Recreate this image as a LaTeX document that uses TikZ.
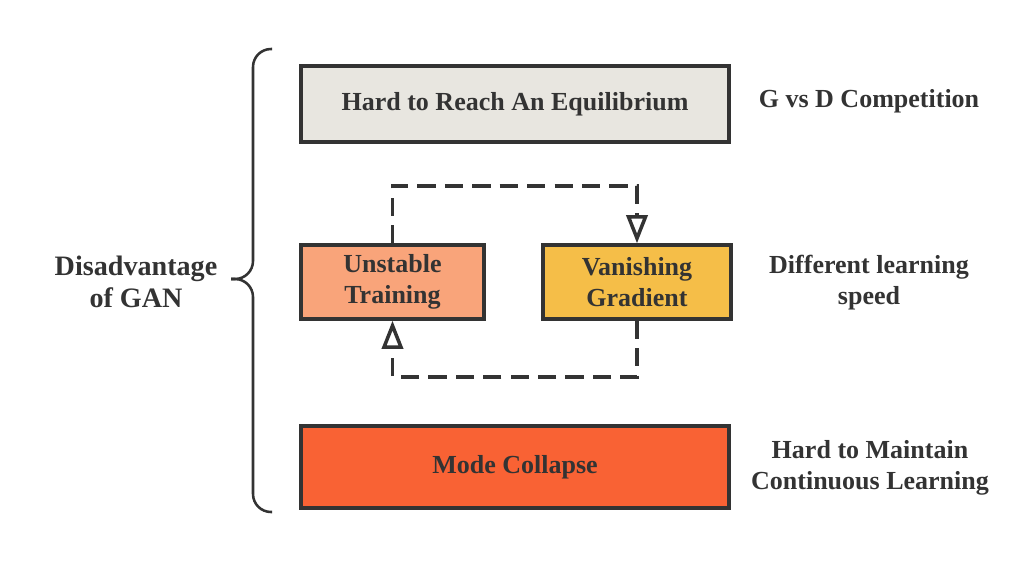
\documentclass[tikz,border=0pt]{standalone}
\usepackage{fontspec}
\setmainfont{Liberation Serif}
\usepackage{xcolor}
\usetikzlibrary{calc,arrows.meta,positioning}

\definecolor{inkgray}{HTML}{333333}
\definecolor{equifill}{HTML}{E8E6E0}
\definecolor{unstfill}{HTML}{F9A47A}
\definecolor{vanfill}{HTML}{F5BE48}
\definecolor{modefill}{HTML}{F96234}

\tikzset{
    issuebox/.style={draw=inkgray, line width=2.4pt, text=inkgray,
        font=\fontsize{18.5}{22}\selectfont\bfseries, align=center, inner sep=0pt},
    sidetext/.style={text=inkgray, font=\fontsize{18.5}{22}\selectfont\bfseries, align=center},
    loopline/.style={draw=inkgray, line width=2.5pt, dash pattern=on 13pt off 6.5pt},
}

\begin{document}
\begin{tikzpicture}[x=0.025cm, y=-0.025cm, >={Triangle[open, length=20pt, width=15pt]}]
    % Canvas
    \useasboundingbox (0,0) rectangle (1036,560);

    % Issue boxes
    \node[issuebox, fill=equifill, minimum width=10.7cm, minimum height=1.9cm] (equi) at (515,104) {Hard to Reach An Equilibrium};
    \node[issuebox, fill=unstfill, minimum width=4.575cm, minimum height=1.85cm] (unst) at (392.5,282) {Unstable\\Training};
    \node[issuebox, fill=vanfill, minimum width=4.7cm, minimum height=1.85cm] (van) at (637,282) {Vanishing\\Gradient};
    \node[issuebox, fill=modefill, minimum width=10.7cm, minimum height=2.05cm] (mode) at (515,467) {Mode Collapse};

    % Causes on the right
    \node[sidetext] (comp) at (869,101) {G vs D Competition};
    \node[sidetext] (speed) at (869,283) {Different learning\\speed};
    \node[sidetext] (cont) at (870,468) {Hard to Maintain\\Continuous Learning};

    % Title and brace
    \node[sidetext, font=\fontsize{20}{23}\selectfont\bfseries] (title) at (136,282) {Disadvantage\\of GAN};
    \coordinate (braceHigh) at (272,49);
    \coordinate (braceLow) at (272,512);
    \coordinate (braceTip) at (231,279);
    \draw[draw=inkgray, line width=1.8pt, rounded corners=0.45cm]
        (braceHigh) -- (253,49) -- (253,279) -- (braceTip);
    \draw[draw=inkgray, line width=1.8pt, rounded corners=0.45cm]
        (braceLow) -- (253,512) -- (253,279) -- (braceTip);

    % Dashed loop between the two middle boxes
    \coordinate (loopTop) at (0,186);
    \coordinate (loopBot) at (0,377);
    \draw[loopline, ->] (unst.north) -- (unst.north |- loopTop) -- (van.north |- loopTop) -- (van.north);
    \draw[loopline, ->] (van.south) -- (van.south |- loopBot) -- (unst.south |- loopBot) -- (unst.south);
\end{tikzpicture}
\end{document}
